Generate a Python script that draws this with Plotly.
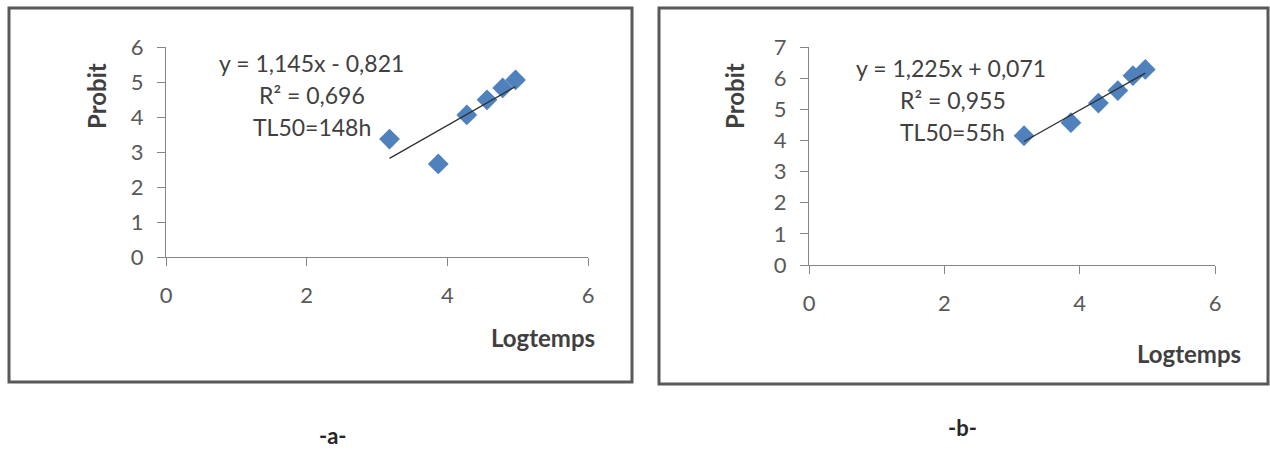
import numpy as np
import plotly.graph_objects as go

W, H = 1270, 452

# Log of exposure time (ln of hours) and probit values for the two trials
logtemps = [3.178, 3.871, 4.277, 4.564, 4.787, 4.970]
probit_a = [3.37, 2.66, 4.06, 4.49, 4.83, 5.06]
probit_b = [4.15, 4.57, 5.20, 5.60, 6.08, 6.28]

# Fitted linear trends (slope, intercept) and their stats
slope_a, intercept_a, r2_a, tl50_a = 1.145, -0.821, "0,696", "148h"
slope_b, intercept_b, r2_b, tl50_b = 1.225, 0.071, "0,955", "55h"

x_ticks = [0, 2, 4, 6]
y_ticks_a = [0, 1, 2, 3, 4, 5, 6]
y_ticks_b = [0, 1, 2, 3, 4, 5, 6, 7]

FONT = "Lato"
MARKER = "#4F81BD"
AXIS = "#868686"
TXT = "#404040"


def px_x(v):
    return v / W


def px_y(v):
    return 1 - v / H


fig = go.Figure()


def add_panel(n, x, y, slope, intercept):
    xa = "x" if n == 1 else f"x{n}"
    ya = "y" if n == 1 else f"y{n}"
    fig.add_trace(go.Scatter(
        x=x, y=y, mode="markers", xaxis=xa, yaxis=ya,
        marker=dict(symbol="diamond", size=16, color=MARKER,
                    line=dict(width=0)),
        showlegend=False, hoverinfo="x+y"))
    xs = np.array([min(x), max(x)])
    fig.add_trace(go.Scatter(
        x=xs, y=slope * xs + intercept, mode="lines", xaxis=xa, yaxis=ya,
        line=dict(color="#303030", width=1.3),
        showlegend=False, hoverinfo="skip"))


add_panel(1, logtemps, probit_a, slope_a, intercept_a)
add_panel(2, logtemps, probit_b, slope_b, intercept_b)

axis_common = dict(
    showgrid=False, zeroline=False, showline=True, linecolor=AXIS,
    linewidth=1.3, ticks="outside", ticklen=8, tickcolor=AXIS, tickwidth=1.3,
    tickfont=dict(family=FONT, size=22, color="#595959"), automargin=False,
)

fig.update_layout(
    template="none",
    width=W, height=H, margin=dict(l=0, r=0, t=0, b=0, pad=0),
    autosize=False,
    paper_bgcolor="white", plot_bgcolor="white",
    xaxis=dict(domain=[px_x(166), px_x(588)], range=[0, 6],
               tickvals=x_ticks, anchor="y", ticklabelstandoff=10,
               **axis_common),
    yaxis=dict(domain=[px_y(257), px_y(47)], range=[0, 6],
               tickvals=y_ticks_a, anchor="x", ticklabelstandoff=9,
               **axis_common),
    xaxis2=dict(domain=[px_x(809), px_x(1215)], range=[0, 6],
                tickvals=x_ticks, anchor="y2", ticklabelstandoff=10,
                **axis_common),
    yaxis2=dict(domain=[px_y(265), px_y(47)], range=[0, 7],
                tickvals=y_ticks_b, anchor="x2", ticklabelstandoff=9,
                **axis_common),
)

# Outer chart frames
for x0, y0, x1, y1 in [(9, 8, 632, 382), (659, 8, 1268, 384)]:
    fig.add_shape(type="rect", xref="paper", yref="paper",
                  x0=px_x(x0), x1=px_x(x1), y0=px_y(y1), y1=px_y(y0),
                  line=dict(color="#595959", width=3), layer="below")


def text(x, y, s, size=23, bold=False, angle=0, color=TXT):
    fig.add_annotation(
        xref="paper", yref="paper", x=px_x(x), y=px_y(y), text=s,
        showarrow=False, xanchor="center", yanchor="middle", textangle=angle,
        font=dict(family=FONT, size=size, color=color,
                  weight="bold" if bold else "normal"))


def fmt(v):
    return f"{abs(v):.3f}".replace(".", ",")


eq_a = f"y = {fmt(slope_a)}x {'-' if intercept_a < 0 else '+'} {fmt(intercept_a)}"
eq_b = f"y = {fmt(slope_b)}x {'-' if intercept_b < 0 else '+'} {fmt(intercept_b)}"

# Trendline labels
text(311, 63, eq_a)
text(312, 95, f"R² = {r2_a}")
text(312, 127, f"TL50={tl50_a}")
text(951, 68, eq_b)
text(953, 100, f"R² = {r2_b}")
text(953, 132, f"TL50={tl50_b}")

# Axis titles
text(96, 96, "Probit", size=24, bold=True, angle=-90)
text(543, 337, "Logtemps", size=24, bold=True)
text(734, 96, "Probit", size=24, bold=True, angle=-90)
text(1189, 353, "Logtemps", size=24, bold=True)

# Panel labels
text(333, 435, "-a-", size=22, bold=True, color="#262626")
text(962, 427, "-b-", size=22, bold=True, color="#262626")

fig.write_html(
    "out.html",
    post_script="document.body.style.margin='0px';"
                "document.body.style.overflow='hidden';",
)
